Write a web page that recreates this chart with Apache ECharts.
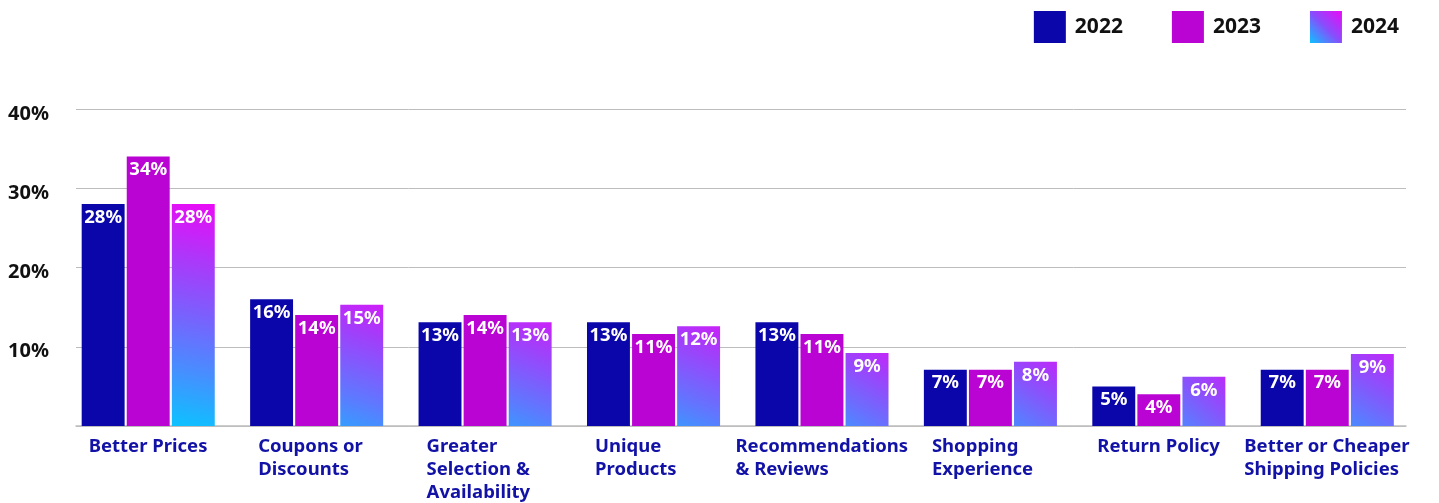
<!DOCTYPE html>
<html>
<head>
<meta charset="utf-8">
<script src="https://cdn.jsdelivr.net/npm/echarts@6/dist/echarts.min.js"></script>
<style>
html,body{margin:0;padding:0;background:#fff;}
#chart{width:1439px;height:503px;}
</style>
</head>
<body>
<div id="chart"></div>
<script>
var categories = ['Better Prices', 'Coupons or\nDiscounts', 'Greater\nSelection &\nAvailability', 'Unique\nProducts', 'Recommendations\n& Reviews', 'Shopping\nExperience', 'Return Policy', 'Better or Cheaper\nShipping Policies'];
var seriesNames = ['2022', '2023', '2024'];
var values2022 = [28, 16, 13.1, 13.1, 13.1, 7.1, 5, 7.1];
var values2023 = [34, 14, 14, 11.6, 11.6, 7.1, 4, 7.1];
var values2024 = [28, 15.3, 13.1, 12.6, 9.2, 8.1, 6.2, 9.1];
var labels2022 = ['28%', '16%', '13%', '13%', '13%', '7%', '5%', '7%'];
var labels2023 = ['34%', '14%', '14%', '11%', '11%', '7%', '4%', '7%'];
var labels2024 = ['28%', '15%', '13%', '12%', '9%', '8%', '6%', '9%'];
var yTicks = [0, 10, 20, 30, 40];

var FONT = '"Noto Sans", sans-serif';
var CAT_FONT_SIZE = 18.5;
var C2022 = '#0a06aa';
var C2023 = '#b904d4';
var GRAD = ['#0cc2ff', '#5a7cff', '#9a44fb', '#ea0af6'];

function gradFor(v) {
  var f = Math.min(1, v / 28);
  var lo = 0.4 * (1 - f), hi = 1 - 0.25 * (1 - f);
  var stops = [];
  for (var i = 0; i <= 4; i++) {
    var t = lo + (hi - lo) * i / 4;
    stops.push({offset: i / 4, color: echarts.color.lerp(t, GRAD)});
  }
  return new echarts.graphic.LinearGradient(0, 1, 1, 0, stops);
}

var measureCtx = document.createElement('canvas').getContext('2d');
measureCtx.font = 'bold ' + CAT_FONT_SIZE + 'px ' + FONT;
function blockWidth(label) {
  var w = 0;
  label.split('\n').forEach(function (s) { w = Math.max(w, measureCtx.measureText(s).width); });
  return Math.max(117, Math.ceil(w));
}

var chart = echarts.init(document.getElementById('chart'), null, {renderer: 'canvas'});

function mkSeries(name, vals, labs, color) {
  return {
    name: name,
    type: 'bar',
    xAxisIndex: 0,
    yAxisIndex: 0,
    data: vals.map(function (v, i) {
      return {value: v, itemStyle: {color: color === 'grad' ? gradFor(v) : color}};
    }),
    barGap: '5%',
    barCategoryGap: '21%',
    label: {
      show: true,
      position: 'insideTop',
      distance: 4,
      color: '#fff',
      fontFamily: FONT,
      fontWeight: 'bold',
      fontSize: 18.5,
      formatter: function (p) { return labs[p.dataIndex]; }
    }
  };
}

var legendGrad = new echarts.graphic.LinearGradient(0, 1, 1, 0, [
  {offset: 0, color: '#0cc2ff'}, {offset: 0.5, color: '#8a4cfc'}, {offset: 1, color: '#ea0af6'}
]);

var rich = {};
categories.forEach(function (c, i) {
  rich['c' + i] = {fontFamily: FONT, fontWeight: 'bold', fontSize: CAT_FONT_SIZE, color: '#1212a6',
    lineHeight: 23, align: 'left', width: blockWidth(c)};
});

chart.setOption({
  animation: false,
  backgroundColor: '#fff',
  grid: [
    {left: 64, right: 27.5, top: 109, bottom: 77, containLabel: false},
    {left: 76, right: 33, top: 109, bottom: 77, containLabel: false}
  ],
  legend: {
    right: 35,
    top: 6,
    itemWidth: 32,
    itemHeight: 32,
    itemGap: 49,
    icon: 'rect',
    textStyle: {fontFamily: FONT, fontWeight: 'bold', fontSize: 21, color: '#111', padding: [0, 0, 0, 4]},
    data: [
      {name: '2022', itemStyle: {color: C2022}},
      {name: '2023', itemStyle: {color: C2023}},
      {name: '2024', itemStyle: {color: legendGrad}}
    ]
  },
  xAxis: [{
    type: 'category',
    gridIndex: 0,
    data: categories,
    axisLine: {show: false},
    axisTick: {show: false},
    axisLabel: {
      interval: 0,
      margin: 9,
      align: 'center',
      verticalAlign: 'top',
      formatter: function (v, idx) {
        return v.split('\n').map(function (s) { return '{c' + idx + '|' + s + '}'; }).join('\n');
      },
      rich: rich
    }
  }, {
    type: 'value',
    gridIndex: 1,
    min: 0,
    max: 1,
    axisLine: {show: true, onZero: false, lineStyle: {color: '#bdbdbd', width: 1.5}},
    axisTick: {show: false},
    axisLabel: {show: false},
    splitLine: {show: false}
  }],
  yAxis: [{
    type: 'value',
    gridIndex: 0,
    min: 0,
    max: 40,
    interval: 10,
    axisLine: {show: false},
    axisTick: {show: false},
    axisLabel: {show: false},
    splitLine: {show: false}
  }, {
    type: 'value',
    gridIndex: 1,
    min: 0,
    max: 40,
    interval: 10,
    axisLine: {show: false},
    axisTick: {show: false},
    splitLine: {lineStyle: {color: '#bdbdbd', width: 1}},
    axisLabel: {
      margin: 68,
      align: 'left',
      verticalAlign: 'top',
      lineHeight: 10,
      fontFamily: FONT,
      fontWeight: 'bold',
      fontSize: 20,
      color: '#111',
      formatter: function (v) { return v === 0 ? '' : v + '%'; }
    }
  }],
  series: [
    {type: 'line', xAxisIndex: 1, yAxisIndex: 1, data: [], silent: true},
    mkSeries('2022', values2022, labels2022, C2022),
    mkSeries('2023', values2023, labels2023, C2023),
    mkSeries('2024', values2024, labels2024, 'grad')
  ]
});
</script>
</body>
</html>
